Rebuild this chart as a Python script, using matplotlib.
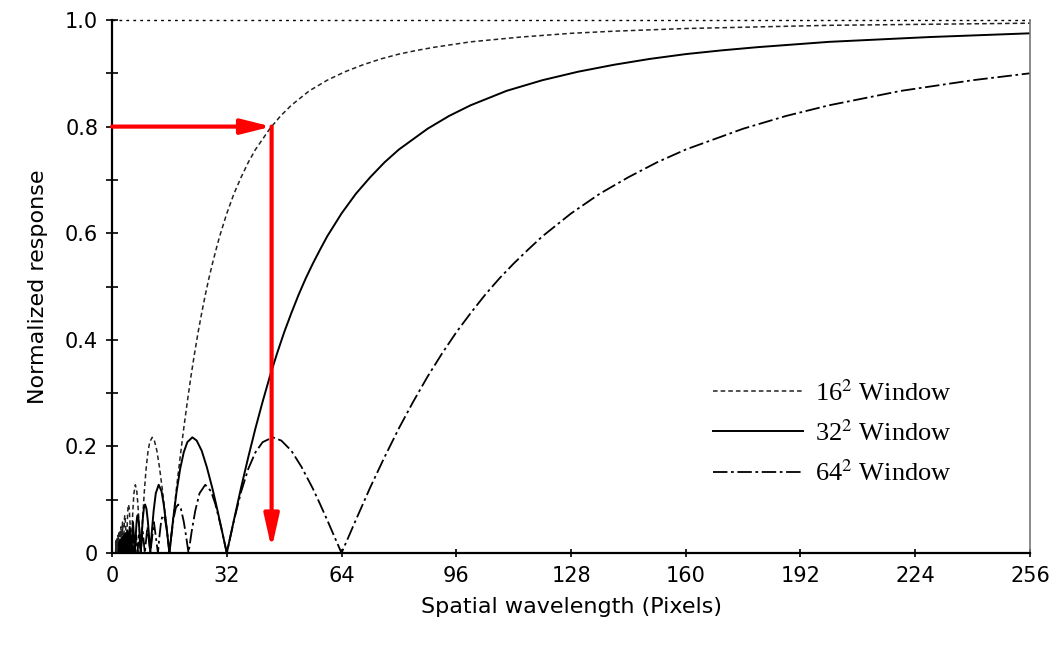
import matplotlib
matplotlib.use("Agg")
import matplotlib.pyplot as plt
from matplotlib.ticker import MultipleLocator, FixedLocator

plt.rcParams['mathtext.fontset'] = 'stix'

# 数据：各窗口归一化响应（波长, 响应）
x16 = [1.0, 1.03, 1.067, 1.10, 1.143, 1.185, 1.231, 1.28, 1.333, 1.39, 1.4545, 1.52, 1.6, 1.68,
       1.778, 1.88, 2.0, 2.13, 2.286, 2.46, 2.667, 2.92, 3.2,
       3.3, 3.4, 3.48, 3.57, 3.68, 3.8, 3.9, 4.0,
       4.15, 4.3, 4.45, 4.61, 4.8, 5.0, 5.15, 5.33,
       5.55, 5.8, 6.1, 6.5, 6.9, 7.2, 7.6, 8.0,
       8.5, 9.0, 9.5, 10.0, 10.5, 11.2, 11.8, 12.5, 13.2, 14.0, 14.5, 15.0, 15.5, 16.0,
       17, 18, 19, 20, 21, 22, 23, 24, 25, 26, 27, 28, 29, 30, 32, 34, 36, 38, 40, 44, 47, 50,
       55, 60, 65, 70, 75, 80, 85, 90, 100, 114, 128, 140, 160, 180, 200, 228, 256]
y16 = [0.0, 0.0205, 0.0, 0.022, 0.0, 0.0236, 0.0, 0.0255, 0.0, 0.0277, 0.0, 0.0303, 0.0, 0.0335,
       0.0, 0.0374, 0.0, 0.0425, 0.0, 0.049, 0.0, 0.058, 0.0,
       0.030, 0.054, 0.066, 0.071, 0.065, 0.046, 0.025, 0.0,
       0.036, 0.066, 0.085, 0.091, 0.083, 0.059, 0.034, 0.0,
       0.040, 0.079, 0.112, 0.128, 0.116, 0.092, 0.049, 0.0,
       0.061, 0.115, 0.158, 0.189, 0.208, 0.217, 0.211, 0.192, 0.162, 0.121, 0.092, 0.062, 0.031, 0.0,
       0.062, 0.123, 0.180, 0.234, 0.284, 0.331, 0.374, 0.414, 0.450, 0.484, 0.515, 0.543, 0.569,
       0.594, 0.637, 0.674, 0.705, 0.733, 0.757, 0.796, 0.820, 0.840, 0.867, 0.887, 0.903, 0.916,
       0.927, 0.936, 0.943, 0.949, 0.959, 0.968, 0.975, 0.979, 0.984, 0.987, 0.990, 0.992, 0.994]

x32 = [2.0, 2.06, 2.133, 2.2, 2.286, 2.37, 2.462, 2.56, 2.667, 2.78, 2.909, 3.04, 3.2, 3.36,
       3.556, 3.76, 4.0, 4.27, 4.571, 4.92, 5.333, 5.84, 6.4,
       6.6, 6.8, 6.96, 7.14, 7.36, 7.6, 7.8, 8.0,
       8.3, 8.6, 8.9, 9.22, 9.6, 10.0, 10.3, 10.67,
       11.1, 11.6, 12.2, 13.0, 13.8, 14.4, 15.2, 16.0,
       17, 18, 19, 20, 21, 22.4, 23.6, 25, 26.4, 28, 29, 30, 31, 32,
       34, 36, 38, 40, 42, 44, 46, 48, 50, 52, 54, 56, 58, 60, 64, 68, 72, 76, 80, 88, 94, 100,
       110, 120, 130, 140, 150, 160, 170, 180, 200, 228, 240, 256]
y32 = [0.0, 0.0205, 0.0, 0.022, 0.0, 0.0236, 0.0, 0.0255, 0.0, 0.0277, 0.0, 0.0303, 0.0, 0.0335,
       0.0, 0.0374, 0.0, 0.0425, 0.0, 0.049, 0.0, 0.058, 0.0,
       0.030, 0.054, 0.066, 0.071, 0.065, 0.046, 0.025, 0.0,
       0.036, 0.066, 0.085, 0.091, 0.083, 0.059, 0.034, 0.0,
       0.040, 0.079, 0.112, 0.128, 0.116, 0.092, 0.049, 0.0,
       0.061, 0.115, 0.158, 0.189, 0.208, 0.217, 0.211, 0.192, 0.162, 0.121, 0.092, 0.062, 0.031, 0.0,
       0.062, 0.123, 0.180, 0.234, 0.284, 0.331, 0.374, 0.414, 0.450, 0.484, 0.515, 0.543, 0.569,
       0.594, 0.637, 0.674, 0.705, 0.733, 0.757, 0.796, 0.820, 0.840, 0.867, 0.887, 0.903, 0.916,
       0.927, 0.936, 0.943, 0.949, 0.959, 0.968, 0.971, 0.975]

x64 = [3.2, 3.28, 3.37, 3.46, 3.56, 3.66, 3.76, 3.88, 4.0, 4.13, 4.27, 4.41, 4.57, 4.74, 4.92,
       5.12, 5.33, 5.57, 5.82, 6.1, 6.4, 6.74, 7.11, 7.54, 8.0, 8.53, 9.14, 9.86, 10.67, 11.68, 12.8,
       13.2, 13.6, 13.92, 14.3, 14.72, 15.2, 15.6, 16.0,
       16.6, 17.2, 17.8, 18.44, 19.2, 20.0, 20.6, 21.33,
       22.2, 23.2, 24.4, 26.0, 27.6, 28.8, 30.4, 32.0,
       34, 36, 38, 40, 42, 44.8, 47.2, 50, 52.8, 56, 58, 60, 62, 64,
       68, 72, 76, 80, 84, 88, 92, 96, 100, 104, 108, 112, 116, 120, 128, 136, 144, 152, 160,
       176, 188, 200, 220, 240, 256]
y64 = [0.0, 0.0163, 0.0, 0.0172, 0.0, 0.0182, 0.0, 0.0193, 0.0, 0.0205, 0.0, 0.022, 0.0, 0.0236,
       0.0, 0.0255, 0.0, 0.0277, 0.0, 0.0303, 0.0, 0.0335, 0.0, 0.0375, 0.0, 0.0425, 0.0, 0.049,
       0.0, 0.058, 0.0,
       0.030, 0.054, 0.066, 0.071, 0.065, 0.046, 0.025, 0.0,
       0.036, 0.066, 0.085, 0.091, 0.083, 0.059, 0.034, 0.0,
       0.040, 0.079, 0.112, 0.128, 0.116, 0.092, 0.049, 0.0,
       0.061, 0.115, 0.158, 0.189, 0.208, 0.217, 0.211, 0.192, 0.162, 0.121, 0.092, 0.062, 0.031, 0.0,
       0.062, 0.123, 0.180, 0.234, 0.284, 0.331, 0.374, 0.414, 0.450, 0.484, 0.515, 0.543, 0.569,
       0.594, 0.637, 0.674, 0.705, 0.733, 0.757, 0.796, 0.820, 0.840, 0.867, 0.887, 0.900]

labels = ["16$^2$ Window", "32$^2$ Window", "64$^2$ Window"]
xticks = [0, 32, 64, 96, 128, 160, 192, 224, 256]
yticks = [0, 0.2, 0.4, 0.6, 0.8, 1.0]
ytick_labels = ["0", "0.2", "0.4", "0.6", "0.8", "1.0"]

# 红色箭头标注位置
mark_x = 44.5
mark_y = 0.8

fig = plt.figure(figsize=(10.51, 6.49), dpi=100)
ax = fig.add_axes([0.1066, 0.1479, 0.8734, 0.8213])

l1, = ax.plot(x16, y16, color="#222222", lw=1.1, linestyle=(0, (3, 2)))
l2, = ax.plot(x32, y32, color="black", lw=1.4, linestyle="-")
l3, = ax.plot(x64, y64, color="black", lw=1.3, linestyle=(0, (8, 2, 1.5, 2)))

# 顶部点线
ax.axhline(1.0, color="black", lw=1.0, linestyle=(0, (2, 3)), clip_on=False)

ax.set_xlim(0, 256)
ax.set_ylim(0, 1.0)

ax.spines["top"].set_visible(False)
ax.spines["right"].set_color("#777777")
ax.spines["right"].set_linewidth(1.2)
ax.spines["left"].set_linewidth(1.6)
ax.spines["bottom"].set_linewidth(1.6)

ax.xaxis.set_major_locator(FixedLocator(xticks))
ax.set_xticklabels([str(t) for t in xticks])
ax.yaxis.set_major_locator(FixedLocator(yticks))
ax.set_yticklabels(ytick_labels)
ax.yaxis.set_minor_locator(MultipleLocator(0.1))
ax.tick_params(axis="both", which="major", direction="inout", length=8, width=1.2,
               labelsize=15, pad=6)
ax.tick_params(axis="y", which="minor", direction="inout", length=8, width=1.2)
ax.tick_params(axis="x", which="major", length=6)

ax.set_xlabel("Spatial wavelength (Pixels)", fontsize=16, labelpad=8)
ax.set_ylabel("Normalized response", fontsize=16, labelpad=12)

# 红色箭头
ax.annotate("", xy=(mark_x, mark_y), xytext=(0, mark_y),
            arrowprops=dict(arrowstyle="-|>,head_length=1.8,head_width=0.45", color="red",
                            lw=3, shrinkA=0, shrinkB=0), annotation_clip=False)
ax.annotate("", xy=(mark_x, 0.008), xytext=(mark_x, mark_y),
            arrowprops=dict(arrowstyle="-|>,head_length=2.0,head_width=0.45", color="red",
                            lw=3, shrinkA=0, shrinkB=0), annotation_clip=False)

leg = ax.legend([l1, l2, l3], labels, loc="upper left", bbox_to_anchor=(0.655, 0.325),
                frameon=False, handlelength=3.4, labelspacing=0.55, handletextpad=0.45,
                borderpad=0, borderaxespad=0,
                prop={"family": "Liberation Serif", "size": 19})

fig.savefig("out.png", dpi=100)
